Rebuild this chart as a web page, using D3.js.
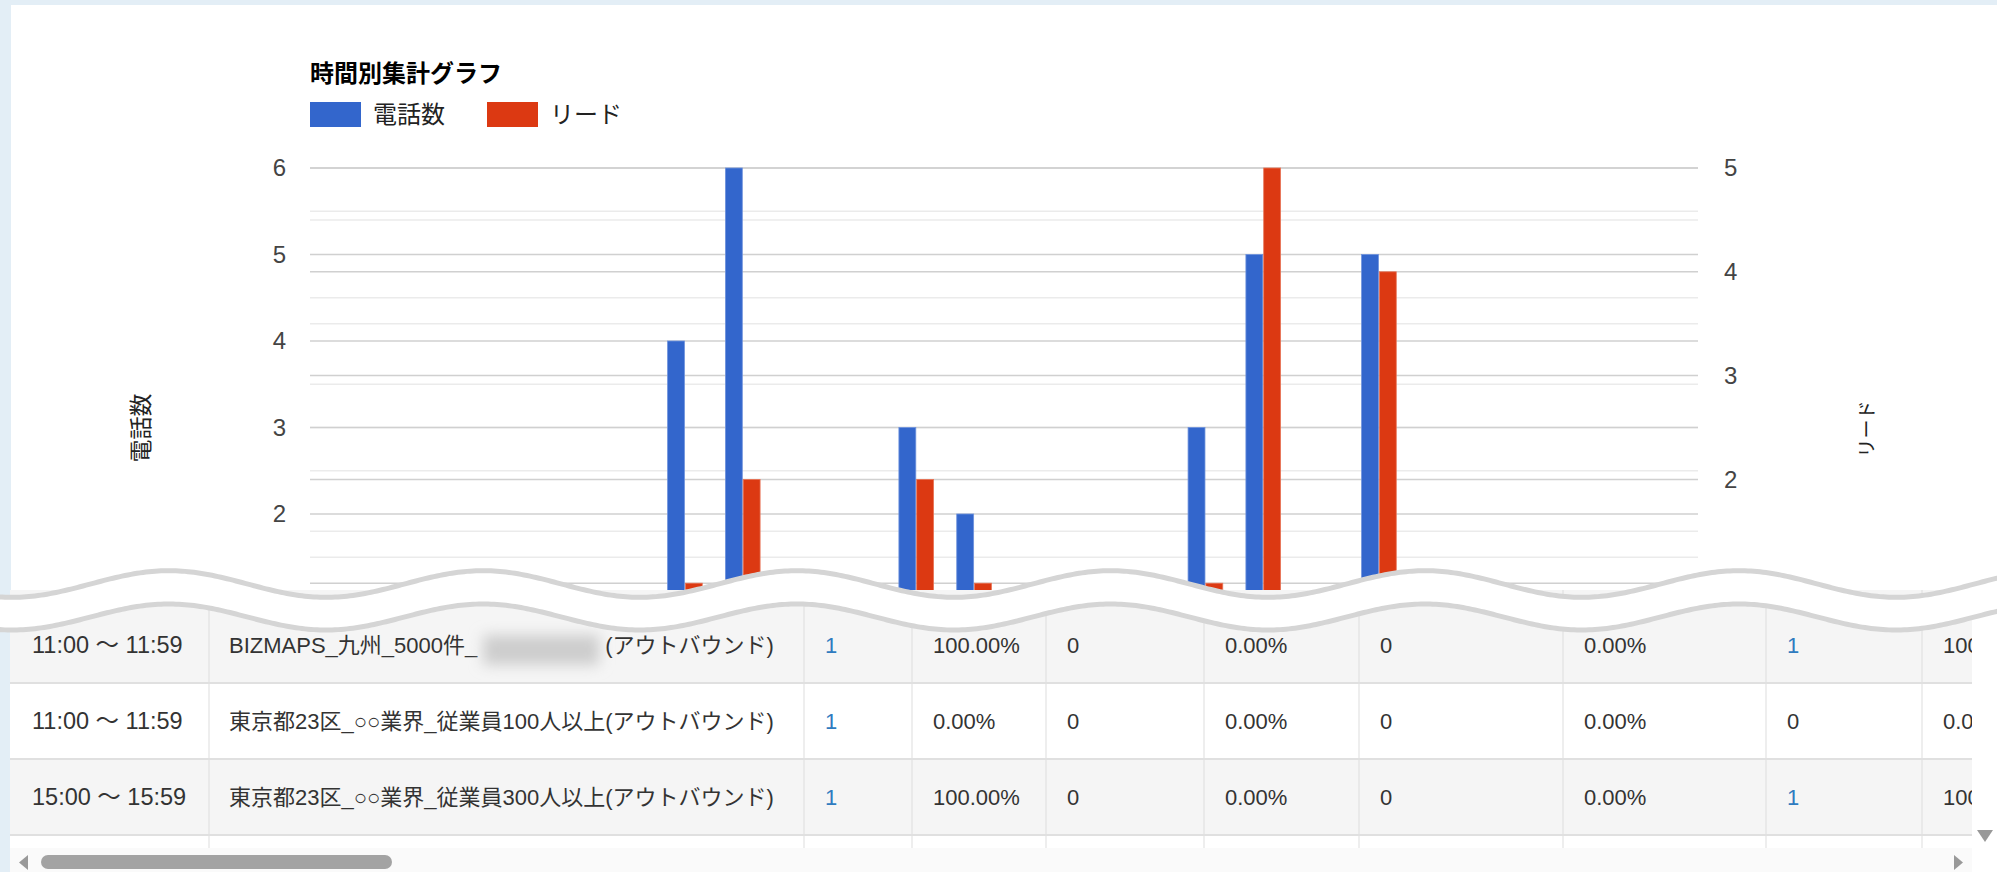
<!DOCTYPE html>
<html><head><meta charset="utf-8">
<script src="https://cdn.jsdelivr.net/npm/d3@7"></script>
<style>html,body{margin:0;padding:0;background:#e3eef6;overflow:hidden}svg{display:block}</style>
</head><body><svg id="c" width="1997" height="872"></svg>
<script>
// ---------- data ----------
const chartTitle = "時間別集計グラフ";
const seriesNames = ["電話数", "リード"];
const hours = ["0:00","1:00","2:00","3:00","4:00","5:00","6:00","7:00","8:00","9:00","10:00","11:00",
               "12:00","13:00","14:00","15:00","16:00","17:00","18:00","19:00","20:00","21:00","22:00","23:00"];
const calls = [0,0,0,0,0,0,4,6,0,0,3,2,0,0,0,3,5,0,5,0,0,0,0,0];
const leads = [0,0,0,0,0,0,1,2,0,0,2,1,0,0,0,1,5,0,4,0,0,0,0,0];
const leftTicks = [2,3,4,5,6];
const rightTicks = [2,3,4,5];
const leftAxisTitle = "電話数";
const rightAxisTitle = "リード";

const tableTimes = ["11:00 ～ 11:59", "11:00 ～ 11:59", "15:00 ～ 15:59"];
const tableNames = [["BIZMAPS_九州_5000件_", "(アウトバウンド)"],
                    ["東京都23区_○○業界_従業員100人以上(アウトバウンド)"],
                    ["東京都23区_○○業界_従業員300人以上(アウトバウンド)"]];
const tableValues = [["1","100.00%","0","0.00%","0","0.00%","1","100.00%"],
                     ["1","0.00%","0","0.00%","0","0.00%","0","0.00%"],
                     ["1","100.00%","0","0.00%","0","0.00%","1","100.00%"]];
const linkValueCols = [0, 6];

// ---------- layout ----------
const W = 1997, H = 872;
const FONT = "'Liberation Sans', Arial, 'Noto Sans CJK JP', sans-serif";
const BLUE = "#3366cc", RED = "#dc3912";
const svg = d3.select("#c");

svg.append("rect").attr("width", W).attr("height", H).attr("fill", "#e3eef6");
svg.append("rect").attr("x", 11).attr("y", 5).attr("width", W - 11).attr("height", H - 5).attr("fill", "#fff");

const defs = svg.append("defs");
defs.append("filter").attr("id", "blur").attr("x", "-50%").attr("y", "-50%").attr("width", "200%").attr("height", "200%")
  .append("feGaussianBlur").attr("stdDeviation", 7);
defs.append("clipPath").attr("id", "tclip").append("rect").attr("x", 10).attr("y", 590).attr("width", 1962).attr("height", 258);

const plot = {left: 310, right: 1698, top: 168, base: 687};
const x0 = d3.scaleBand().domain(hours).range([plot.left, plot.right]);
const gw = x0.bandwidth() * 0.6;
const x1 = d3.scaleBand().domain(["calls", "leads"]).range([0, gw]).paddingInner(0.05);
const yL = d3.scaleLinear().domain([0, 6]).range([plot.base, plot.top]);
const yR = d3.scaleLinear().domain([0, 5]).range([plot.base, plot.top]);

// gridlines
const grid = svg.append("g");
const drawGrid = (vals, scale, color, w) => grid.append("g").selectAll("line").data(vals).join("line")
  .attr("x1", plot.left).attr("x2", plot.right)
  .attr("y1", d => scale(d)).attr("y2", d => scale(d))
  .attr("stroke", color).attr("stroke-width", w);
drawGrid(d3.range(0.5, 6, 1), yL, "#ebebeb", 1.5);
drawGrid(d3.range(0.5, 5, 1), yR, "#ebebeb", 1.5);
drawGrid(d3.range(0, 7), yL, "#d0d0d0", 1.5);
drawGrid(d3.range(0, 6), yR, "#d0d0d0", 1.5);

// axes
const fmt = d3.format("d");
const gL = svg.append("g").attr("transform", `translate(${plot.left},0)`)
  .call(d3.axisLeft(yL).tickValues(leftTicks).tickFormat(fmt).tickSize(0).tickPadding(24));
gL.select(".domain").remove();
gL.attr("font-size", 24).attr("font-family", FONT);
gL.selectAll("text").attr("fill", "#444");

const gR = svg.append("g").attr("transform", `translate(${plot.right},0)`)
  .call(d3.axisRight(yR).tickValues(rightTicks).tickFormat(fmt).tickSize(0).tickPadding(26));
gR.select(".domain").remove();
gR.attr("font-size", 24).attr("font-family", FONT);
gR.selectAll("text").attr("fill", "#444");

svg.append("text").text(leftAxisTitle)
  .attr("transform", "translate(141,428) rotate(-90)")
  .attr("text-anchor", "middle").attr("dominant-baseline", "central")
  .attr("font-family", FONT).attr("font-size", 23).attr("fill", "#222");
svg.append("text").text(rightAxisTitle)
  .attr("transform", "translate(1867,429) rotate(-90)")
  .attr("text-anchor", "middle").attr("dominant-baseline", "central")
  .attr("font-family", FONT).attr("font-size", 19).attr("fill", "#222");

// bars
const rows = hours.map((h, i) => ({h, calls: calls[i], leads: leads[i]}));
const groups = svg.append("g").selectAll("g").data(rows).join("g")
  .attr("transform", d => `translate(${x0(d.h) + (x0.bandwidth() - gw) / 2 - 1},0)`);
groups.filter(d => d.calls > 0).append("rect")
  .attr("x", x1("calls")).attr("width", x1.bandwidth())
  .attr("y", d => yL(d.calls)).attr("height", d => yL(0) - yL(d.calls))
  .attr("fill", BLUE).attr("stroke", "#6f93dd").attr("stroke-width", 0.8);
groups.filter(d => d.leads > 0).append("rect")
  .attr("x", x1("leads")).attr("width", x1.bandwidth())
  .attr("y", d => yR(d.leads)).attr("height", d => yR(0) - yR(d.leads))
  .attr("fill", RED).attr("stroke", "#e87558").attr("stroke-width", 0.8);

// title + legend
svg.append("text").text(chartTitle).attr("x", 310).attr("y", 73)
  .attr("dominant-baseline", "central").attr("font-family", FONT)
  .attr("font-weight", "bold").attr("font-size", 24).attr("fill", "#000");
const leg = svg.append("g").selectAll("g").data(seriesNames).join("g")
  .attr("transform", (d, i) => `translate(${310 + i * 177},102)`);
leg.append("rect").attr("width", 51).attr("height", 25).attr("fill", (d, i) => i ? RED : BLUE);
leg.append("text").text(d => d).attr("x", 63).attr("y", 12.5)
  .attr("dominant-baseline", "central").attr("font-family", FONT)
  .attr("font-size", 24).attr("fill", "#222");

// ---------- table ----------
const colBounds = [10, 209, 804, 912, 1046, 1204, 1359, 1563, 1766, 1922, 2150];
const rowTop = 607, rowH = 76;
const tbl = svg.append("g").attr("clip-path", "url(#tclip)");
tbl.append("rect").attr("x", 10).attr("y", 590).attr("width", 1962).attr("height", 258).attr("fill", "#fff");
tbl.selectAll("rect.row").data(d3.range(4)).join("rect").attr("class", "row")
  .attr("x", 10).attr("width", 1962)
  .attr("y", i => i === 0 ? 590 : rowTop + i * rowH).attr("height", i => i === 0 ? rowTop + rowH - 590 : rowH)
  .attr("fill", i => i % 2 === 0 ? "#f5f5f5" : "#fff");
tbl.selectAll("line.v").data(colBounds.slice(1, -1)).join("line").attr("class", "v")
  .attr("x1", d => d).attr("x2", d => d).attr("y1", 590).attr("y2", 848)
  .attr("stroke", "#dddddd").attr("stroke-width", 1);
tbl.selectAll("line.h").data(d3.range(1, 4)).join("line").attr("class", "h")
  .attr("x1", 10).attr("x2", 1972).attr("y1", i => rowTop + i * rowH).attr("y2", i => rowTop + i * rowH)
  .attr("stroke", "#e0e0e0").attr("stroke-width", 2);

const PAD = 21;
tableTimes.forEach((t, r) => {
  const cy = rowTop + r * rowH + rowH / 2;
  const txt = (x, s, color, size) => tbl.append("text").text(s).attr("x", x).attr("y", cy)
    .attr("dominant-baseline", "central").attr("font-family", FONT)
    .attr("font-size", size || 22).attr("fill", color || "#333");
  txt(colBounds[0] + 22, t, "#333", 23.5);
  const parts = tableNames[r];
  const first = txt(colBounds[1] + 20, parts[0]);
  if (parts.length > 1) {
    const w = first.node().getComputedTextLength();
    const bx = colBounds[1] + 20 + w;
    tbl.append("rect").attr("x", bx + 6).attr("y", cy - 10).attr("width", 116).attr("height", 30)
      .attr("fill", "#cdcdcd").attr("filter", "url(#blur)");
    txt(bx + 128, parts[1]);
  }
  tableValues[r].forEach((v, c) => {
    const link = linkValueCols.includes(c) && v !== "0";
    txt(colBounds[c + 2] + PAD, v, link ? "#2f7bbf" : "#333");
  });
});

// scrollbars
svg.append("rect").attr("x", 10).attr("y", 848).attr("width", 1962).attr("height", 24).attr("fill", "#fafafa");
svg.append("rect").attr("x", 1972).attr("y", 590).attr("width", 25).attr("height", 282).attr("fill", "#fff");
svg.append("rect").attr("x", 41).attr("y", 855).attr("width", 351).attr("height", 14).attr("rx", 7).attr("fill", "#a3a3a3");
svg.append("path").attr("d", d3.line()([[28, 855], [19, 862.5], [28, 870]])).attr("fill", "#999");
svg.append("path").attr("d", d3.line()([[1954, 855], [1963, 862.5], [1954, 870]])).attr("fill", "#999");
svg.append("path").attr("d", d3.line()([[1977, 830], [1993, 830], [1985, 842]])).attr("fill", "#999");

// ---------- wave break ----------
const period = 314, phase = 169;
const topWave = x => 584 - 13.3 * Math.cos(2 * Math.PI * (x - phase) / period);
const botWave = x => 617 - 13 * Math.cos(2 * Math.PI * (x - phase) / period);
const wx = d3.range(-10, W + 14, 3);
svg.append("path").datum(wx)
  .attr("d", d3.area().x(x => x).y0(x => topWave(x) - 1).y1(x => botWave(x)))
  .attr("fill", "#fff");
[topWave, botWave].forEach(f => {
  svg.append("path").datum(wx).attr("d", d3.line().x(x => x).y(f))
    .attr("fill", "none").attr("stroke", "#d5d5d5").attr("stroke-width", 5);
});
</script></body></html>
